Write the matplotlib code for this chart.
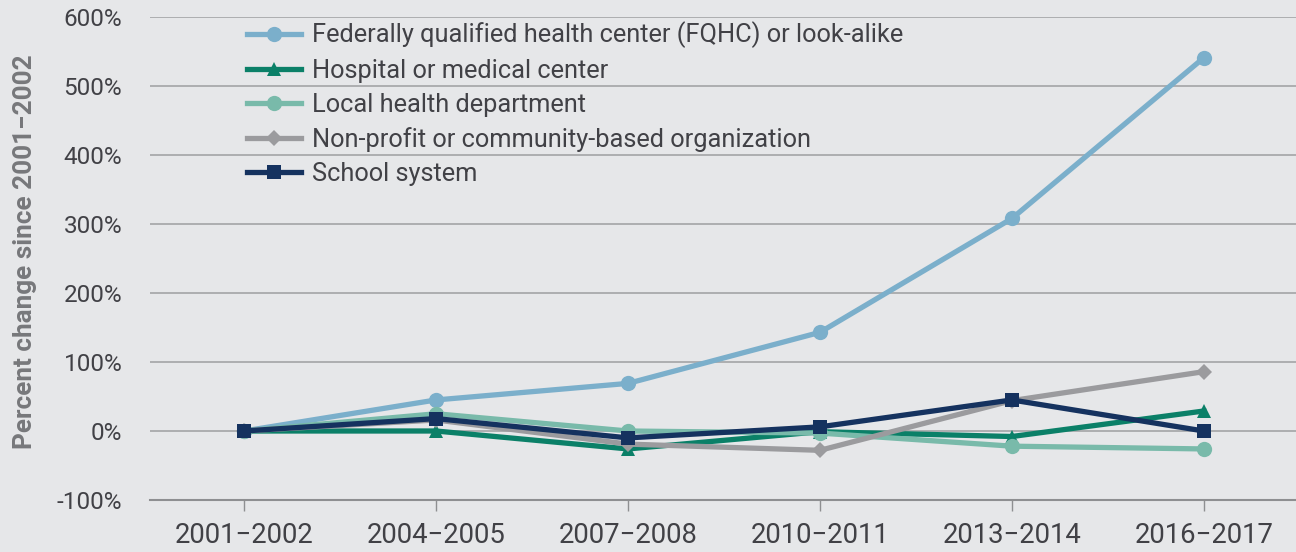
import matplotlib
matplotlib.use("Agg")
import matplotlib.pyplot as plt
from matplotlib.ticker import FixedLocator

plt.rcParams['font.family'] = ['Roboto', 'DejaVu Sans']

periods = ["2001−2002", "2004−2005", "2007−2008", "2010−2011", "2013−2014", "2016−2017"]
series_names = [
    "Federally qualified health center (FQHC) or look-alike",
    "Hospital or medical center",
    "Local health department",
    "Non-profit or community-based organization",
    "School system",
]
fqhc = [0, 45, 69, 143, 308, 541]
hospital = [0, 0, -26, -1, -8, 29]
local_health = [0, 25, 0, -3, -22, -26]
nonprofit = [0, 16, -19, -28, 44, 86]
school = [0, 18, -10, 6, 45, 0]
yticks = [-100, 0, 100, 200, 300, 400, 500, 600]

values = [fqhc, hospital, local_health, nonprofit, school]
colors = ["#7BAFCB", "#0B8068", "#79BAAA", "#9B9B9E", "#15325F"]
markers = ["o", "^", "o", "D", "s"]
msizes = [11, 10, 11, 8, 10]

bg = "#E6E7E9"
fig = plt.figure(figsize=(12.96, 5.52), dpi=100, facecolor=bg)
ax = fig.add_axes([150/1296, 52/552, 1 - 150/1296, (500-17)/552])
ax.set_facecolor(bg)

x = list(range(len(periods)))
for name, vals, c, m, ms in zip(series_names, values, colors, markers, msizes):
    ax.plot(x, vals, color=c, lw=3.8, marker=m, markersize=ms, label=name,
            markeredgewidth=0, solid_joinstyle='miter')

ax.set_ylim(-100, 600)
ax.set_xlim(-0.49, 5.48)
ax.yaxis.set_major_locator(FixedLocator(yticks))
ax.set_yticklabels([f"{v}%" for v in yticks])
ax.set_xticks(x)
ax.set_xticklabels(periods)
ax.grid(axis='y', color="#A3A4A6", lw=1.2)
ax.set_axisbelow(True)
for s in ['top', 'right', 'left']:
    ax.spines[s].set_visible(False)
ax.spines['bottom'].set_color("#8E8F91")
ax.spines['bottom'].set_linewidth(1.5)
ax.tick_params(axis='y', length=0, pad=20, labelsize=17.5, labelcolor="#414146")
ax.tick_params(axis='x', length=8, width=1.0, color="#8E8F91", pad=8, labelsize=19.8, labelcolor="#414146")
ax.set_ylabel("Percent change since 2001−2002", fontsize=18.8, fontweight='bold', color="#77787B")
ax.yaxis.set_label_coords(-0.0985, 0.515)

leg = ax.legend(loc='upper left', bbox_to_anchor=(0.0715, 1.022), frameon=False,
                fontsize=18.3, handlelength=2.1, handletextpad=0.45, labelspacing=0.4,
                borderaxespad=0.2)
for t in leg.get_texts():
    t.set_color("#414146")

fig.savefig("out.png", dpi=100, facecolor=bg)
